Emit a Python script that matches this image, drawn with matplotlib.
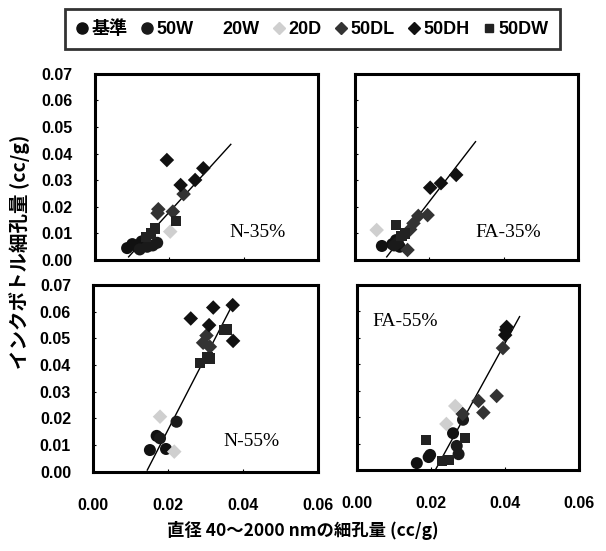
import numpy as np
import matplotlib
matplotlib.use("Agg")
import matplotlib.pyplot as plt
from matplotlib.lines import Line2D

plt.rcParams['font.family'] = ['Liberation Sans', 'Noto Sans CJK JP', 'DejaVu Sans']

# series names and marker styles
series = ['基準', '50W', '20W', '20D', '50DL', '50DH', '50DW']
markers = {'基準': 'o', '50W': 'o', '20W': 'o', '20D': 'D',
           '50DL': 'D', '50DH': 'D', '50DW': 's'}
colors = {'基準': '#111111', '50W': '#1a1a1a', '20W': '#ffffff', '20D': '#cfcfcf',
          '50DL': '#333333', '50DH': '#111111', '50DW': '#222222'}

panel_names = ['N-35%', 'FA-35%', 'N-55%', 'FA-55%']

# (x, y) points, per panel and series
n35 = {
    '基準': ([0.0086, 0.0100, 0.0112, 0.0125], [0.0045, 0.0060, 0.0050, 0.0070]),
    '50W': ([0.0140, 0.0155, 0.0167, 0.0120], [0.0050, 0.0055, 0.0065, 0.0040]),
    '20D': ([0.0202], [0.0107]),
    '50DL': ([0.0170, 0.0168, 0.0209, 0.0238], [0.0191, 0.0176, 0.0182, 0.0248]),
    '50DH': ([0.0193, 0.0291, 0.0269, 0.0230], [0.0376, 0.0345, 0.0301, 0.0282]),
    '50DW': ([0.0218, 0.0161, 0.0137, 0.0150], [0.0147, 0.0119, 0.0088, 0.0100]),
}
fa35 = {
    '基準': ([0.0100, 0.0110, 0.0120, 0.0072], [0.0060, 0.0075, 0.0050, 0.0053]),
    '50W': ([0.0115, 0.0105], [0.0065, 0.0055]),
    '20D': ([0.0058], [0.0113]),
    '50DL': ([0.0195, 0.0170, 0.0157, 0.0148, 0.0141], [0.0169, 0.0166, 0.0138, 0.0115, 0.0038]),
    '50DH': ([0.0272, 0.0231, 0.0202], [0.0320, 0.0289, 0.0272]),
    '50DW': ([0.0110, 0.0135, 0.0125], [0.0132, 0.0100, 0.0090]),
}
n55 = {
    '基準': ([0.0169, 0.0151, 0.0194], [0.0134, 0.0081, 0.0085]),
    '50W': ([0.0222, 0.0178], [0.0187, 0.0125]),
    '20D': ([0.0178, 0.0216], [0.0206, 0.0075]),
    '50DL': ([0.0302, 0.0293, 0.0311], [0.0510, 0.0483, 0.0468]),
    '50DH': ([0.0372, 0.0320, 0.0260, 0.0309, 0.0373], [0.0624, 0.0615, 0.0574, 0.0549, 0.0490]),
    '50DW': ([0.0356, 0.0350, 0.0285, 0.0311, 0.0305], [0.0533, 0.0530, 0.0408, 0.0424, 0.0430]),
}
fa55 = {
    '基準': ([0.0162, 0.0194, 0.0198, 0.0260], [0.0026, 0.0049, 0.0057, 0.0139]),
    '50W': ([0.0270, 0.0275, 0.0287], [0.0091, 0.0060, 0.0190]),
    '20D': ([0.0266, 0.0242], [0.0242, 0.0174]),
    '50DL': ([0.0395, 0.0378, 0.0329, 0.0342, 0.0286], [0.0461, 0.0280, 0.0261, 0.0217, 0.0212]),
    '50DH': ([0.0405, 0.0401, 0.0403], [0.0541, 0.0510, 0.0530]),
    '50DW': ([0.0187, 0.0293, 0.0248, 0.0230], [0.0113, 0.0120, 0.0038, 0.0035]),
}
panels = [n35, fa35, n55, fa55]

# regression line end points per panel
fit_x = [(0.0090, 0.0365), (0.0085, 0.0324), (0.0144, 0.0373), (0.0212, 0.0440)]
fit_y = [(0.0012, 0.0435), (0.0012, 0.0445), (0.0006, 0.0630), (0.0000, 0.0580)]

xticks = [0.00, 0.02, 0.04, 0.06]
yticks = [0.00, 0.01, 0.02, 0.03, 0.04, 0.05, 0.06, 0.07]

fig = plt.figure(figsize=(6.06, 5.51), dpi=100)
rects = [
    [0.157, 0.528, 0.368, 0.338],
    [0.586, 0.528, 0.368, 0.338],
    [0.154, 0.144, 0.371, 0.339],
    [0.589, 0.147, 0.366, 0.336],
]
text_pos = [(0.60, 0.15), (0.54, 0.15), (0.58, 0.16), (0.07, 0.80)]

for i, (data, rect) in enumerate(zip(panels, rects)):
    ax = fig.add_axes(rect)
    for name in series:
        if name not in data:
            continue
        xs, ys = data[name]
        m = markers[name]
        ax.scatter(xs, ys, marker=m, s=75 if m == 'o' else 55,
                   color=colors[name], edgecolors='none', zorder=3)
    ax.plot(fit_x[i], fit_y[i], color='black', lw=1.0, zorder=2)
    ax.set_xlim(0, 0.06)
    ax.set_ylim(0, 0.07)
    ax.set_xticks(xticks)
    ax.set_yticks(yticks)
    ax.tick_params(direction='in', length=2, width=0.8)
    for s in ax.spines.values():
        s.set_linewidth(2.2)
    if i % 2 == 0:
        ax.set_yticklabels([f'{v:.2f}' for v in yticks], fontsize=11.5, fontweight='bold')
        ax.tick_params(axis='y', pad=16)
    else:
        ax.set_yticklabels([])
    if i >= 2:
        ax.set_xticklabels([f'{v:.2f}' for v in xticks], fontsize=11.5, fontweight='bold')
        ax.tick_params(axis='x', pad=19)
    else:
        ax.set_xticklabels([])
    ax.text(*text_pos[i], panel_names[i], transform=ax.transAxes,
            fontsize=14, family='Liberation Serif', ha='left', va='center')

fig.text(0.033, 0.543, 'インクボトル細孔量 (cc/g)', rotation=90, ha='center', va='center',
         fontsize=14, fontweight='bold', family=['Noto Sans CJK JP', 'DejaVu Sans'])
fig.text(0.5, 0.038, '直径 40～2000 nmの細孔量 (cc/g)', ha='center', va='center',
         fontsize=12.5, fontweight='bold', family=['Noto Sans CJK JP', 'DejaVu Sans'])

handles = [Line2D([], [], ls='none', marker=markers[n], color=colors[n],
                  markersize=8 if markers[n] == 'o' else 6) for n in series]
leg = fig.legend(handles, series, loc='center', bbox_to_anchor=(0.515, 0.947),
                 ncol=7, frameon=True, fancybox=False, edgecolor='black',
                 handlelength=0.7, handletextpad=0.2, columnspacing=0.7,
                 borderpad=0.6, borderaxespad=0,
                 prop={'weight': 'bold', 'size': 13,
                       'family': ['Liberation Sans', 'Noto Sans CJK JP']})
leg.get_frame().set_linewidth(2.0)

fig.savefig('out.png', dpi=100)
